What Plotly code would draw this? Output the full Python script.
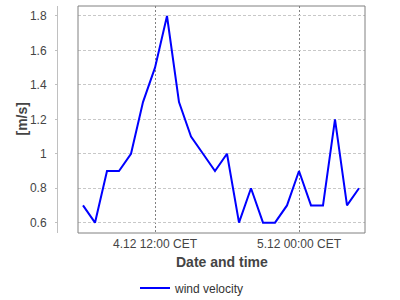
import plotly.graph_objects as go
import pandas as pd

times = pd.date_range("2023-12-04 06:00", periods=24, freq="h")
velocity = [0.7, 0.6, 0.9, 0.9, 1.0, 1.3, 1.5, 1.8, 1.3, 1.1, 1.0, 0.9,
            1.0, 0.6, 0.8, 0.6, 0.6, 0.7, 0.9, 0.7, 0.7, 1.2, 0.7, 0.8]
x_tickvals = ["2023-12-04 12:00", "2023-12-05 00:00"]
x_ticktext = ["4.12 12:00 CET", "5.12 00:00 CET"]
y_tickvals = [0.6, 0.8, 1.0, 1.2, 1.4, 1.6, 1.8]

FONT = "Liberation Sans, Arial, sans-serif"
W, H = 400, 300
ML, MR, MT, MB = 57, 35, 6, 67
pw = W - ML - MR
ph = H - MT - MB
dom0 = (78 - ML) / pw

fig = go.Figure()
fig.add_trace(go.Scatter(x=times, y=velocity, mode="lines", name="wind velocity",
                         line=dict(color="#0000ff", width=2)))

fig.update_layout(
    width=W, height=H,
    margin=dict(l=ML, r=MR, t=MT, b=MB, autoexpand=False),
    paper_bgcolor="white", plot_bgcolor="white",
    font=dict(family=FONT, size=12, color="#444444"),
    showlegend=True,
    legend=dict(orientation="h", x=(135 - ML) / pw, xanchor="left",
                y=-(288 - 233) / ph, yanchor="middle",
                font=dict(size=12, color="#333333"), bgcolor="rgba(0,0,0,0)"),
    xaxis=dict(domain=[dom0, 1], type="date",
               range=["2023-12-04 05:35", "2023-12-05 05:30"],
               tickvals=x_tickvals, ticktext=x_ticktext,
               showgrid=True, gridcolor="#808080", griddash="2px,2px", gridwidth=1,
               showline=False, zeroline=False, ticks="",
               tickfont=dict(size=12, color="#444444"), ticklabelstandoff=2,
               automargin=False),
    yaxis=dict(anchor="free", position=0, range=[0.54, 1.858],
               tickvals=y_tickvals,
               showgrid=True, gridcolor="#c8c8c8", griddash="3px,2px", gridwidth=1,
               showline=True, linecolor="#c0c0c0", linewidth=1,
               ticks="outside", ticklen=2, tickcolor="#c0c0c0",
               zeroline=False, tickfont=dict(size=12, color="#444444"),
               ticklabelstandoff=6, automargin=False),
    shapes=[dict(type="rect", xref="x domain", yref="y domain",
                 x0=0, x1=1, y0=0, y1=1, line=dict(color="#808080", width=1),
                 layer="above")],
    annotations=[
        dict(text="<b>[m/s]</b>", xref="paper", yref="paper",
             x=(21 - ML) / pw, y=0.5, textangle=-90, showarrow=False,
             font=dict(size=14, color="#444444"), xanchor="center", yanchor="middle"),
        dict(text="<b>Date and time</b>", xref="paper", yref="paper",
             x=(221.5 - ML) / pw, y=-(262 - 233) / ph, showarrow=False,
             font=dict(size=14, color="#444444"), xanchor="center", yanchor="middle"),
    ],
)

fig.write_html("out.html")
